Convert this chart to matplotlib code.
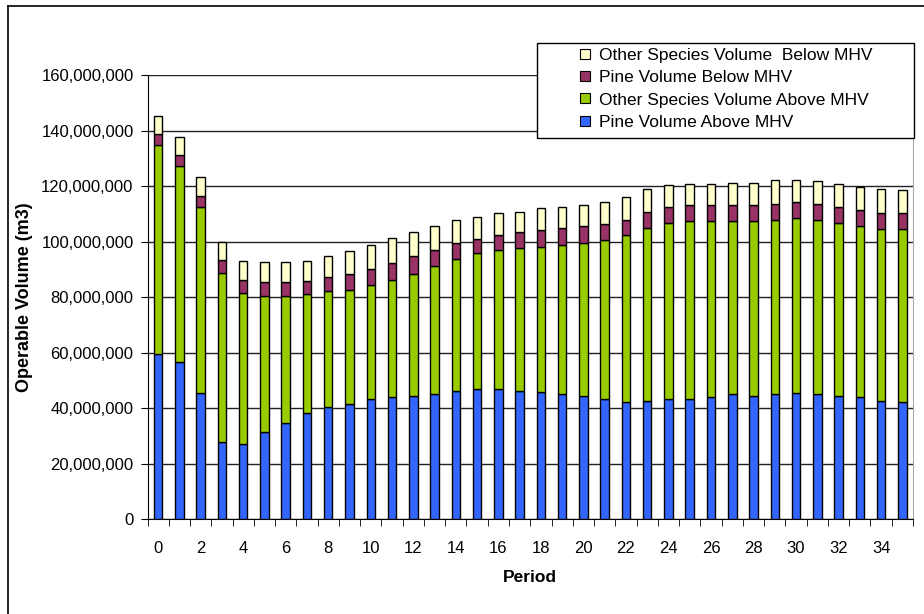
import matplotlib.pyplot as plt
from matplotlib.ticker import FuncFormatter, MultipleLocator
from matplotlib.lines import Line2D
from matplotlib.patches import Rectangle
import numpy as np

plt.rcParams['font.family'] = ['Liberation Sans', 'DejaVu Sans']

# operable volume per period, millions of m3
periods = list(range(36))
pine_above = [59.3, 56.4, 45.4, 27.7, 27.2, 31.3, 34.6, 38.1, 40.4, 41.5,
              43.3, 43.8, 44.4, 45.0, 46.2, 46.7, 46.7, 46.2, 45.6, 45.0,
              44.4, 43.3, 42.2, 42.7, 43.2, 43.3, 43.8, 45.0, 44.4, 45.0,
              45.4, 45.0, 44.4, 43.8, 42.7, 42.2]
other_above = [75.4, 70.7, 67.1, 61.1, 54.3, 48.9, 45.7, 42.9, 41.7, 41.2,
               41.2, 42.3, 43.9, 46.2, 47.4, 49.1, 50.3, 51.4, 52.5, 53.7,
               54.9, 57.2, 60.0, 62.3, 63.5, 64.0, 63.5, 62.3, 62.9, 62.8,
               62.9, 62.8, 62.3, 61.8, 61.7, 62.2]
pine_below = [4.2, 4.1, 3.9, 4.7, 4.6, 5.2, 5.1, 4.9, 5.1, 5.6,
              5.6, 6.3, 6.4, 5.9, 5.7, 5.1, 5.2, 5.8, 5.9, 6.2,
              6.3, 5.7, 5.7, 5.8, 5.7, 5.7, 5.7, 5.7, 5.7, 5.8,
              5.9, 5.8, 5.8, 5.7, 5.8, 5.8]
other_below = [6.3, 6.5, 6.9, 6.4, 6.9, 7.1, 7.1, 7.1, 7.6, 8.1,
               8.8, 8.7, 8.8, 8.5, 8.6, 8.1, 8.1, 7.4, 8.0, 7.6,
               7.6, 8.1, 8.0, 8.0, 7.8, 7.7, 7.7, 8.1, 8.1, 8.6,
               8.0, 8.1, 8.2, 8.2, 8.6, 8.2]

series = [
    ('Pine Volume Above MHV', pine_above, '#3366FF'),
    ('Other Species Volume Above MHV', other_above, '#99CC00'),
    ('Pine Volume Below MHV', pine_below, '#993366'),
    ('Other Species Volume  Below MHV', other_below, '#FFFFCC'),
]

W, H = 924, 614
fig = plt.figure(figsize=(W/100, H/100), dpi=100)
ax = fig.add_axes([147.5/W, 1-519/H, (913-147.5)/W, (519-75)/H])

x = np.array(periods)
bottom = np.zeros(len(periods))
handles = []
for name, vals, col in series:
    v = np.array(vals) * 1e6
    ax.bar(x, v, width=0.4, bottom=bottom, color=col, edgecolor='black',
           linewidth=1, zorder=3)
    bottom += v
    handles.append(Line2D([], [], marker='s', linestyle='none', markersize=7,
                          markerfacecolor=col, markeredgecolor='black',
                          markeredgewidth=0.8, label=name))

ax.set_xlim(-0.5, 35.5)
ax.set_ylim(0, 160e6)
ax.yaxis.set_major_locator(MultipleLocator(20e6))
ax.yaxis.set_major_formatter(FuncFormatter(lambda v, p: f'{int(v):,}'))
ax.grid(axis='y', color='#222222', linewidth=1, zorder=0)

# labels on even periods, ticks on the category boundaries
ax.set_xticks(range(0, 36, 2))
ax.set_xticks(np.arange(-0.5, 36, 1), minor=True)
ax.tick_params(axis='x', which='major', length=0, pad=16, labelsize=12)
ax.tick_params(axis='x', which='minor', length=5, direction='out')
ax.tick_params(axis='y', length=5, direction='out', labelsize=12, pad=5)

ax.spines['top'].set_visible(False)
ax.spines['right'].set_color('#aaaaaa')

ax.set_xlabel('Period', fontsize=12.5, fontweight='bold', labelpad=10)
ax.set_ylabel('Operable Volume (m3)', fontsize=13, fontweight='bold', labelpad=6)

# legend box, text sits toward the right of it
fig.add_artist(Rectangle((537/W, 1-138/H), (914-537)/W, (138-43)/H,
                         transform=fig.transFigure, facecolor='white',
                         edgecolor='black', linewidth=1, zorder=9))
leg = fig.legend(handles=handles[::-1], loc='upper left',
                 bbox_to_anchor=(576/W, 1-44/H), frameon=False,
                 fontsize=12.5, handlelength=0.6, handletextpad=0.5,
                 labelspacing=0.42, borderpad=0.2, borderaxespad=0)
leg.set_zorder(10)

# outer chart border
fig.add_artist(Line2D([8/W, 8/W], [0, 1-6/H], color='black', linewidth=1.2))
fig.add_artist(Line2D([8/W, 1], [1-6/H, 1-6/H], color='black', linewidth=1.2))

fig.savefig('out.png', dpi=100)
